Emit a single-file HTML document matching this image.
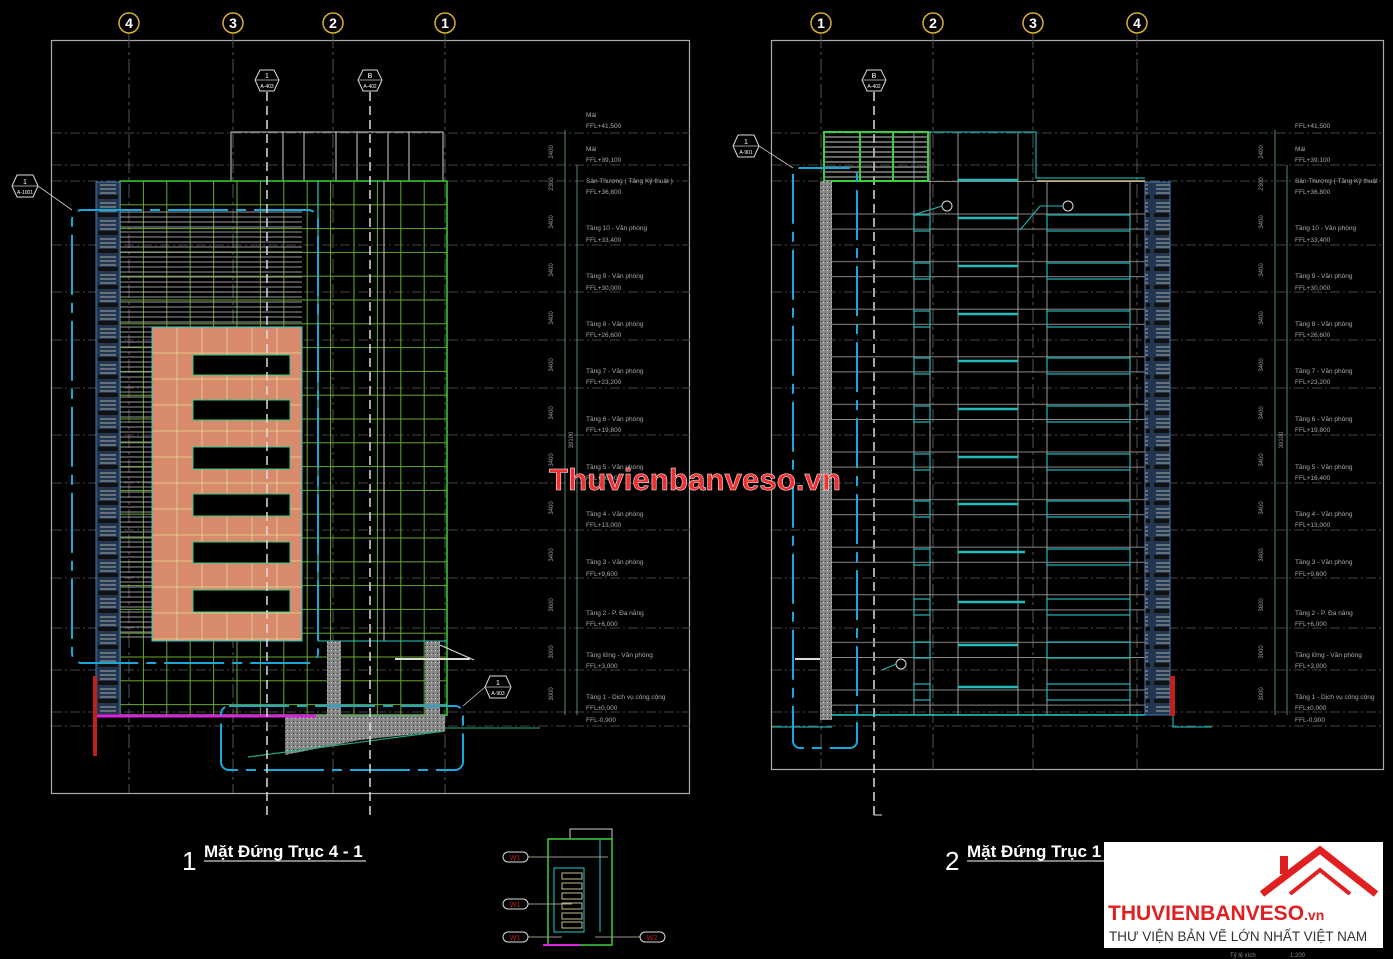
<!DOCTYPE html>
<html><head><meta charset="utf-8"><style>
html,body{margin:0;padding:0;background:#000;}
svg{display:block;font-family:"Liberation Sans",sans-serif;}
</style></head><body>
<svg width="1393" height="959" viewBox="0 0 1393 959" xmlns="http://www.w3.org/2000/svg">
<defs>
<pattern id="gg" x="120" y="181" width="23.4" height="23.8" patternUnits="userSpaceOnUse">
<rect width="23.4" height="23.8" fill="none" stroke="#6aa82a" stroke-width="1"/></pattern>
<pattern id="sg" x="152" y="327" width="25" height="26" patternUnits="userSpaceOnUse">
<rect width="25" height="26" fill="#d88a6c" stroke="#e8d890" stroke-width="0.8"/></pattern>
<pattern id="hh" x="0" y="0" width="10" height="5" patternUnits="userSpaceOnUse">
<line x1="0" y1="2" x2="10" y2="2" stroke="#aaa" stroke-width="1.2"/></pattern>
<pattern id="bs" x="96" y="182" width="24" height="18" patternUnits="userSpaceOnUse">
<rect width="24" height="18" fill="#23364f"/><line x1="4" y1="3" x2="20" y2="3" stroke="#aaa"/><line x1="4" y1="7" x2="20" y2="7" stroke="#aaa"/><line x1="4" y1="11" x2="20" y2="11" stroke="#aaa"/><rect x="2" y="13" width="20" height="4" fill="#111"/></pattern>
<pattern id="cc" width="4" height="4" patternUnits="userSpaceOnUse"><rect width="4" height="4" fill="#888"/><rect x="1" y="1" width="1" height="1" fill="#333"/><rect x="3" y="2" width="1" height="1" fill="#ccc"/></pattern>
<pattern id="rf" x="0" y="181" width="1393" height="47.6" patternUnits="userSpaceOnUse">
<line x1="0" y1="0.5" x2="1393" y2="0.5" stroke="#888" stroke-width="1"/><line x1="0" y1="33" x2="1393" y2="33" stroke="#888" stroke-width="1"/></pattern>
</defs>
<rect width="1393" height="959" fill="#000"/>
<rect x="51.5" y="40.5" width="638" height="753" fill="none" stroke="#aaa" stroke-width="1.2"/>
<rect x="771.5" y="40.5" width="612" height="729" fill="none" stroke="#aaa" stroke-width="1.2"/>
<g stroke="#444" stroke-width="1" stroke-dasharray="10 3 2 3">
<line x1="52" y1="133" x2="690" y2="133"/><line x1="52" y1="165" x2="690" y2="165"/><line x1="52" y1="181" x2="690" y2="181"/>
<line x1="52" y1="245" x2="690" y2="245"/><line x1="52" y1="292" x2="690" y2="292"/><line x1="52" y1="340" x2="690" y2="340"/><line x1="52" y1="388" x2="690" y2="388"/><line x1="52" y1="435" x2="690" y2="435"/><line x1="52" y1="483" x2="690" y2="483"/><line x1="52" y1="530" x2="690" y2="530"/><line x1="52" y1="578" x2="690" y2="578"/><line x1="52" y1="628" x2="690" y2="628"/><line x1="52" y1="670" x2="690" y2="670"/><line x1="52" y1="712" x2="690" y2="712"/><line x1="52" y1="726" x2="690" y2="726"/>
<line x1="772" y1="133" x2="1384" y2="133"/><line x1="772" y1="165" x2="1384" y2="165"/><line x1="772" y1="181" x2="1384" y2="181"/>
<line x1="772" y1="245" x2="1384" y2="245"/><line x1="772" y1="292" x2="1384" y2="292"/><line x1="772" y1="340" x2="1384" y2="340"/><line x1="772" y1="388" x2="1384" y2="388"/><line x1="772" y1="435" x2="1384" y2="435"/><line x1="772" y1="483" x2="1384" y2="483"/><line x1="772" y1="530" x2="1384" y2="530"/><line x1="772" y1="578" x2="1384" y2="578"/><line x1="772" y1="628" x2="1384" y2="628"/><line x1="772" y1="670" x2="1384" y2="670"/><line x1="772" y1="712" x2="1384" y2="712"/><line x1="772" y1="726" x2="1384" y2="726"/>
</g>
<g stroke="#555" stroke-width="1" stroke-dasharray="14 4 3 4">
<line x1="129" y1="34" x2="129" y2="793"/><line x1="233" y1="34" x2="233" y2="793"/><line x1="333" y1="34" x2="333" y2="793"/><line x1="445" y1="34" x2="445" y2="793"/>
<line x1="821" y1="34" x2="821" y2="770"/><line x1="933" y1="34" x2="933" y2="770"/><line x1="1033" y1="34" x2="1033" y2="770"/><line x1="1137" y1="34" x2="1137" y2="770"/>
</g>
<g fill="#000" stroke="#d8b030" stroke-width="1.5">
<circle cx="129" cy="23" r="10"/><circle cx="233" cy="23" r="10"/><circle cx="333" cy="23" r="10"/><circle cx="445" cy="23" r="10"/>
<circle cx="821" cy="23" r="10"/><circle cx="933" cy="23" r="10"/><circle cx="1033" cy="23" r="10"/><circle cx="1137" cy="23" r="10"/>
</g>
<g fill="#fff" font-size="14" font-weight="bold" text-anchor="middle">
<text x="129" y="28">4</text><text x="233" y="28">3</text><text x="333" y="28">2</text><text x="445" y="28">1</text>
<text x="821" y="28">1</text><text x="933" y="28">2</text><text x="1033" y="28">3</text><text x="1137" y="28">4</text>
</g>

<rect x="231" y="132" width="212" height="49" fill="none" stroke="#ccc"/>
<g stroke="#ccc"><line x1="283" y1="132" x2="283" y2="181"/><line x1="304" y1="132" x2="304" y2="181"/><line x1="336" y1="132" x2="336" y2="181"/><line x1="357" y1="132" x2="357" y2="181"/><line x1="388" y1="132" x2="388" y2="181"/><line x1="409" y1="132" x2="409" y2="181"/></g>
<rect x="120" y="181" width="327" height="534" fill="url(#gg)" stroke="#3cd03c" stroke-width="1.5"/>
<rect x="120" y="208" width="182" height="430" fill="url(#hh)" opacity="0.75"/>
<rect x="96" y="182" width="24" height="533" fill="url(#bs)" stroke="#4a7ab0"/>
<line x1="318" y1="181" x2="318" y2="641" stroke="#2cc" stroke-width="1.2"/>
<line x1="384" y1="181" x2="384" y2="641" stroke="#ccc" stroke-width="1"/>
<rect x="152" y="327" width="150" height="314" fill="url(#sg)" stroke="#2cc"/>
<g fill="#000" stroke="#3c8">
<rect x="193" y="355" width="97" height="20"/><rect x="193" y="400" width="97" height="20"/><rect x="193" y="447" width="97" height="22"/><rect x="193" y="494" width="97" height="22"/><rect x="193" y="542" width="97" height="21"/><rect x="193" y="590" width="97" height="22"/>
</g>
<line x1="318" y1="641" x2="447" y2="641" stroke="#2cc"/>
<rect x="327" y="641" width="14" height="74" fill="url(#cc)"/>
<rect x="425" y="641" width="15" height="74" fill="url(#cc)"/>
<polygon points="285,715 445,715 445,731 360,740 285,755" fill="url(#cc)"/>
<line x1="248" y1="757" x2="445" y2="731" stroke="#2a8" stroke-width="1.2"/>
<line x1="445" y1="728" x2="540" y2="728" stroke="#2a8"/>
<line x1="93" y1="716" x2="316" y2="716" stroke="#e020e0" stroke-width="3"/>
<rect x="93" y="676" width="4" height="80" fill="#c02020"/>
<rect x="72" y="210" width="246" height="453" rx="10" fill="none" stroke="#1aa8d8" stroke-width="2" stroke-dasharray="60 8 10 8"/>
<rect x="221" y="706" width="242" height="64" rx="8" fill="none" stroke="#1aa8d8" stroke-width="2" stroke-dasharray="60 8 10 8"/>
<line x1="395" y1="659" x2="470" y2="659" stroke="#ddd" stroke-width="2"/>
<line x1="440" y1="645" x2="474" y2="660" stroke="#ddd"/>
<g stroke="#ddd" stroke-width="1.5" stroke-dasharray="9 5"><line x1="267" y1="92" x2="267" y2="815"/><line x1="370" y1="92" x2="370" y2="815"/><line x1="874" y1="92" x2="874" y2="815"/></g>
<line x1="874" y1="815" x2="882" y2="815" stroke="#ddd"/>
<g fill="#000" stroke="#ddd" stroke-width="1">
<polygon points="255,80 260,70 274,70 279,80 274,91 260,91"/><polygon points="358,80 363,70 377,70 382,80 377,91 363,91"/>
<polygon points="12,186 17,175 33,175 38,186 33,197 17,197"/><polygon points="485,687 490,676 506,676 511,687 506,698 490,698"/>
<polygon points="862,80 867,70 881,70 886,80 881,91 867,91"/><polygon points="733,146 738,135 754,135 759,146 754,157 738,157"/>
</g>
<g stroke="#ccc" stroke-width="0.8"><line x1="256" y1="80" x2="278" y2="80"/><line x1="359" y1="80" x2="381" y2="80"/><line x1="13" y1="186" x2="37" y2="186"/><line x1="486" y1="687" x2="510" y2="687"/><line x1="863" y1="80" x2="885" y2="80"/><line x1="734" y1="146" x2="758" y2="146"/>
<line x1="38" y1="186" x2="72" y2="210"/><line x1="485" y1="687" x2="463" y2="706"/><line x1="759" y1="146" x2="793" y2="168"/></g>
<g fill="#fff" font-size="7" text-anchor="middle">
<text x="267" y="78">1</text><text x="267" y="88" font-size="5">A-403</text><text x="370" y="78">B</text><text x="370" y="88" font-size="5">A-402</text>
<text x="25" y="184">1</text><text x="25" y="194" font-size="5">A-1001</text><text x="498" y="685">1</text><text x="498" y="695" font-size="5">A-903</text>
<text x="874" y="78">B</text><text x="874" y="88" font-size="5">A-402</text><text x="746" y="144">1</text><text x="746" y="154" font-size="5">A-901</text>
</g>

<rect x="832" y="181" width="313" height="534" fill="url(#rf)"/>
<rect x="824" y="132" width="104" height="49" fill="url(#hh)" stroke="#3cd03c" stroke-width="2"/>
<line x1="860" y1="132" x2="860" y2="181" stroke="#3cd03c" stroke-width="2"/><line x1="893" y1="132" x2="893" y2="181" stroke="#3cd03c" stroke-width="2"/>
<polyline points="928,132 1036,132 1036,178 1145,178" fill="none" stroke="#2cc"/>
<line x1="1037" y1="181" x2="1145" y2="181" stroke="#c8c090" stroke-width="1.5"/>
<g stroke="#999" stroke-width="1">
<line x1="914" y1="132" x2="914" y2="715"/><line x1="930" y1="132" x2="930" y2="715"/><line x1="958" y1="132" x2="958" y2="715"/><line x1="1018" y1="132" x2="1018" y2="715"/><line x1="1047" y1="181" x2="1047" y2="715"/><line x1="1130" y1="181" x2="1130" y2="715"/></g>
<rect x="820" y="181" width="12" height="539" fill="url(#cc)"/>
<line x1="832" y1="715" x2="1145" y2="715" stroke="#2cc" stroke-width="1.5"/>
<rect x="1145" y="182" width="25" height="533" fill="url(#bs)" stroke="#4a7ab0"/>
<rect x="1170" y="676" width="5" height="40" fill="#c02020"/>
<polyline points="1173,716 1173,727 1212,727" fill="none" stroke="#2cc"/>
<line x1="772" y1="727" x2="832" y2="727" stroke="#2cc"/>
<rect x="793" y="168" width="64" height="580" rx="7" fill="none" stroke="#1aa8d8" stroke-width="2" stroke-dasharray="50 8 10 8"/>
<line x1="795" y1="659" x2="820" y2="659" stroke="#ddd" stroke-width="2"/>
<g fill="none" stroke="#2bb" stroke-width="1.2">
<rect x="914" y="215" width="16" height="16"/><rect x="914" y="263" width="16" height="16"/><rect x="914" y="311" width="16" height="16"/><rect x="914" y="358" width="16" height="16"/><rect x="914" y="406" width="16" height="16"/><rect x="914" y="454" width="16" height="16"/><rect x="914" y="501" width="16" height="16"/><rect x="914" y="549" width="16" height="16"/><rect x="914" y="599" width="16" height="16"/><rect x="914" y="642" width="16" height="16"/><rect x="914" y="684" width="16" height="16"/>
<rect x="1047" y="215" width="83" height="16"/><rect x="1047" y="263" width="83" height="16"/><rect x="1047" y="311" width="83" height="16"/><rect x="1047" y="358" width="83" height="16"/><rect x="1047" y="406" width="83" height="16"/><rect x="1047" y="454" width="83" height="16"/><rect x="1047" y="501" width="83" height="16"/><rect x="1047" y="549" width="83" height="16"/><rect x="1047" y="599" width="83" height="16"/><rect x="1047" y="642" width="83" height="16"/><rect x="1047" y="684" width="83" height="16"/>
</g>
<g stroke="#2bb" stroke-width="2.5">
<line x1="958" y1="180" x2="1018" y2="180"/><line x1="958" y1="218" x2="1018" y2="218"/><line x1="958" y1="266" x2="1018" y2="266"/><line x1="958" y1="314" x2="1018" y2="314"/><line x1="958" y1="361" x2="1018" y2="361"/><line x1="958" y1="409" x2="1018" y2="409"/><line x1="958" y1="457" x2="1018" y2="457"/><line x1="958" y1="504" x2="1018" y2="504"/><line x1="958" y1="552" x2="1025" y2="552"/><line x1="958" y1="602" x2="1025" y2="602"/><line x1="958" y1="645" x2="1018" y2="645"/><line x1="958" y1="687" x2="1018" y2="687"/>
</g>
<g fill="none" stroke="#ddd"><circle cx="947" cy="206" r="5"/><circle cx="1068" cy="206" r="5"/><circle cx="901" cy="664" r="5"/></g>
<g stroke="#2bb"><line x1="942" y1="206" x2="913" y2="215"/><line x1="1063" y1="206" x2="1040" y2="206"/><line x1="1040" y1="206" x2="1020" y2="230"/><line x1="896" y1="664" x2="882" y2="670"/></g>

<g stroke="#6aa" stroke-width="0.8"><line x1="565" y1="130" x2="565" y2="715"/><line x1="577" y1="165" x2="577" y2="715"/><line x1="1275" y1="130" x2="1275" y2="715"/><line x1="1287" y1="165" x2="1287" y2="715"/></g>
<g fill="#999" font-size="6" text-anchor="middle">
<text transform="translate(553,152) rotate(-90)">2400</text><text transform="translate(553,184) rotate(-90)">2300</text><text transform="translate(553,222) rotate(-90)">3400</text><text transform="translate(553,270) rotate(-90)">3400</text><text transform="translate(553,318) rotate(-90)">3400</text><text transform="translate(553,365) rotate(-90)">3400</text><text transform="translate(553,413) rotate(-90)">3400</text><text transform="translate(553,460) rotate(-90)">3400</text><text transform="translate(553,508) rotate(-90)">3400</text><text transform="translate(553,555) rotate(-90)">3400</text><text transform="translate(553,605) rotate(-90)">3600</text><text transform="translate(553,652) rotate(-90)">3000</text><text transform="translate(553,694) rotate(-90)">3000</text><text transform="translate(573,440) rotate(-90)">39100</text>
<text transform="translate(1263,152) rotate(-90)">2400</text><text transform="translate(1263,184) rotate(-90)">2300</text><text transform="translate(1263,222) rotate(-90)">3400</text><text transform="translate(1263,270) rotate(-90)">3400</text><text transform="translate(1263,318) rotate(-90)">3400</text><text transform="translate(1263,365) rotate(-90)">3400</text><text transform="translate(1263,413) rotate(-90)">3400</text><text transform="translate(1263,460) rotate(-90)">3400</text><text transform="translate(1263,508) rotate(-90)">3400</text><text transform="translate(1263,555) rotate(-90)">3400</text><text transform="translate(1263,605) rotate(-90)">3600</text><text transform="translate(1263,652) rotate(-90)">3000</text><text transform="translate(1263,694) rotate(-90)">3000</text><text transform="translate(1283,440) rotate(-90)">39100</text>
</g>
<g fill="#aaa" font-size="6.5">
<text x="586" y="117">Mái</text><text x="586" y="128">FFL+41,500</text>
<text x="586" y="151">Mái</text><text x="586" y="162">FFL+39,100</text>
<text x="586" y="183">Sân Thượng ( Tầng Kỹ thuật )</text><text x="586" y="194">FFL+36,800</text>
<text x="586" y="230">Tầng 10 - Văn phòng</text><text x="586" y="242">FFL+33,400</text>
<text x="586" y="278">Tầng 9 - Văn phòng</text><text x="586" y="290">FFL+30,000</text>
<text x="586" y="326">Tầng 8 - Văn phòng</text><text x="586" y="337">FFL+26,600</text>
<text x="586" y="373">Tầng 7 - Văn phòng</text><text x="586" y="384">FFL+23,200</text>
<text x="586" y="421">Tầng 6 - Văn phòng</text><text x="586" y="432">FFL+19,800</text>
<text x="586" y="469">Tầng 5 - Văn phòng</text><text x="586" y="480">FFL+16,400</text>
<text x="586" y="516">Tầng 4 - Văn phòng</text><text x="586" y="527">FFL+13,000</text>
<text x="586" y="564">Tầng 3 - Văn phòng</text><text x="586" y="576">FFL+9,600</text>
<text x="586" y="615">Tầng 2 - P. Đa năng</text><text x="586" y="626">FFL+6,000</text>
<text x="586" y="657">Tầng lửng - Văn phòng</text><text x="586" y="668">FFL+3,000</text>
<text x="586" y="699">Tầng 1 - Dịch vụ công cộng</text><text x="586" y="710">FFL±0,000</text><text x="586" y="722">FFL-0,900</text>
<text x="1295" y="128">FFL+41,500</text>
<text x="1295" y="151">Mái</text><text x="1295" y="162">FFL+39,100</text>
<text x="1295" y="183">Sân Thượng ( Tầng Kỹ thuật</text><text x="1295" y="194">FFL+36,800</text>
<text x="1295" y="230">Tầng 10 - Văn phòng</text><text x="1295" y="242">FFL+33,400</text>
<text x="1295" y="278">Tầng 9 - Văn phòng</text><text x="1295" y="290">FFL+30,000</text>
<text x="1295" y="326">Tầng 8 - Văn phòng</text><text x="1295" y="337">FFL+26,600</text>
<text x="1295" y="373">Tầng 7 - Văn phòng</text><text x="1295" y="384">FFL+23,200</text>
<text x="1295" y="421">Tầng 6 - Văn phòng</text><text x="1295" y="432">FFL+19,800</text>
<text x="1295" y="469">Tầng 5 - Văn phòng</text><text x="1295" y="480">FFL+16,400</text>
<text x="1295" y="516">Tầng 4 - Văn phòng</text><text x="1295" y="527">FFL+13,000</text>
<text x="1295" y="564">Tầng 3 - Văn phòng</text><text x="1295" y="576">FFL+9,600</text>
<text x="1295" y="615">Tầng 2 - P. Đa năng</text><text x="1295" y="626">FFL+6,000</text>
<text x="1295" y="657">Tầng lửng - Văn phòng</text><text x="1295" y="668">FFL+3,000</text>
<text x="1295" y="699">Tầng 1 - Dịch vụ công cộng</text><text x="1295" y="710">FFL±0,000</text><text x="1295" y="722">FFL-0,900</text>
</g>

<text x="182" y="870" fill="#fff" font-size="26">1</text>
<text x="204" y="857" fill="#fff" font-size="17" font-weight="bold">Mặt Đứng Trục 4 - 1</text>
<line x1="204" y1="861" x2="366" y2="861" stroke="#fff"/>
<text x="945" y="870" fill="#fff" font-size="26">2</text>
<text x="967" y="857" fill="#fff" font-size="17" font-weight="bold">Mặt Đứng Trục 1</text>
<line x1="967" y1="861" x2="1104" y2="861" stroke="#fff"/>

<rect x="570" y="829" width="42" height="10" fill="none" stroke="#ccc"/>
<rect x="548" y="839" width="64" height="106" fill="none" stroke="#3cd03c" stroke-width="1.5"/>
<line x1="600" y1="839" x2="600" y2="932" stroke="#2cc"/>
<rect x="554" y="868" width="30" height="64" fill="none" stroke="#2cc"/>
<g fill="none" stroke="#c8c090"><rect x="562" y="873" width="20" height="6"/><rect x="562" y="883" width="20" height="6"/><rect x="562" y="893" width="20" height="6"/><rect x="562" y="903" width="20" height="6"/><rect x="562" y="913" width="20" height="6"/><rect x="562" y="922" width="20" height="6"/></g>
<line x1="543" y1="945" x2="580" y2="945" stroke="#e020e0" stroke-width="2"/>
<g stroke="#998"><line x1="528" y1="857" x2="608" y2="857"/><line x1="528" y1="904" x2="572" y2="904"/><line x1="528" y1="937" x2="562" y2="937"/><line x1="595" y1="937" x2="640" y2="937"/></g>
<g fill="#000" stroke="#ddd"><rect x="503" y="852" width="25" height="10" rx="5"/><rect x="503" y="899" width="25" height="10" rx="5"/><rect x="503" y="932" width="25" height="10" rx="5"/><rect x="640" y="932" width="25" height="10" rx="5"/></g>
<g fill="#c02020" font-size="7" text-anchor="middle"><text x="515" y="860">W1</text><text x="515" y="907">W1</text><text x="515" y="940">W1</text><text x="652" y="940">W2</text></g>

<text x="695" y="490" fill="#f03030" font-size="31" font-weight="bold" text-anchor="middle" stroke="#fff" stroke-width="0.5" textLength="292" lengthAdjust="spacingAndGlyphs">Thuvienbanveso.vn</text>

<rect x="1104" y="842" width="279" height="106" fill="#fff"/>
<polyline points="1262,894 1320,850 1376,894" fill="none" stroke="#e02020" stroke-width="7"/>
<polyline points="1290,894 1320,870 1350,894" fill="none" stroke="#e02020" stroke-width="4"/>
<rect x="1280" y="856" width="8" height="18" fill="#e02020"/>
<text x="1108" y="920" fill="#e02020" font-size="21" font-weight="bold">THUVIENBANVESO<tspan font-size="14">.vn</tspan></text>
<text x="1109" y="941" fill="#333" font-size="13.5">THƯ VIỆN BẢN VẼ LỚN NHẤT VIỆT NAM</text>
<text x="1230" y="957" fill="#888" font-size="6">Tỷ lệ xích</text><text x="1290" y="957" fill="#888" font-size="6">1:200</text>
</svg>
</body></html>
